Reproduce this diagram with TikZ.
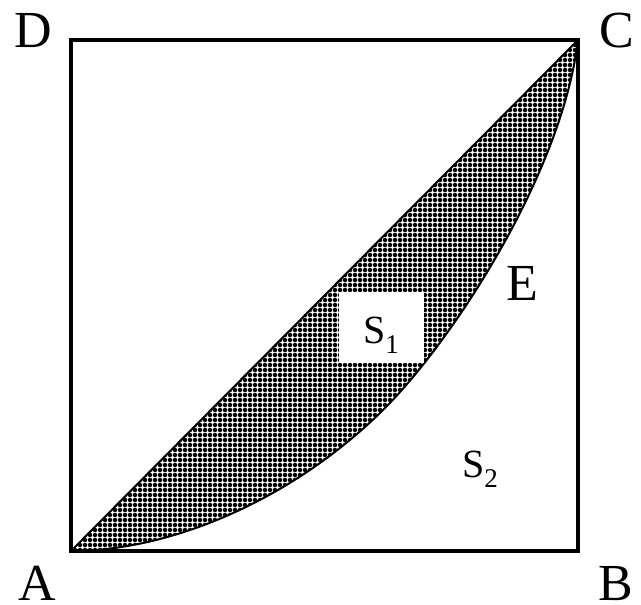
\documentclass[tikz,border=0pt]{standalone}
\usepackage{fontspec}
\setmainfont{Liberation Serif}
\usetikzlibrary{patterns, positioning}

% dense dot fill of the region S1
\pgfdeclarepatternformonly{blobs}{\pgfqpoint{-2.5pt}{-2.5pt}}{\pgfqpoint{2.5pt}{2.5pt}}{\pgfqpoint{5pt}{5pt}}{%
  \pgfpathcircle{\pgfpointorigin}{2.25pt}\pgfusepath{fill}}

\newcommand{\lowidx}[1]{\raisebox{-0.25em}{\fontsize{27}{30}\selectfont #1}}

\begin{document}
\begin{tikzpicture}[
    x=1pt, y=-1pt,
    every node/.style={inner sep=0pt},
    vlabel/.style={font=\fontsize{52}{60}\selectfont, anchor=base, text depth=0pt},
    alabel/.style={font=\fontsize{40}{48}\selectfont, anchor=base},
    edge/.style={line width=2pt, line join=round}
]
\useasboundingbox (0,0) rectangle (641,605);

% Corners
\coordinate (A) at (71,551);
\coordinate (B) at (578,551);
\coordinate (C) at (578,40);
\coordinate (D) at (71,40);
\coordinate (M) at (380,413);

% Region between diagonal and curve AEC
\draw[edge, pattern=blobs] (A) .. controls (171,551) and (290,500.3) .. (M)
    .. controls (450,345) and (561.8,175) .. (C) -- cycle;

% Square
\draw[line width=4.3pt, line join=miter] (A) -- (B) -- (C) -- (D) -- cycle;

% White box round S1
\node[fill=white, minimum width=85pt, minimum height=71pt] (boxS) at (381.5,327.5) {};

% Labels
\node[vlabel] (lblD) at (33.5,47) {D};
\node[vlabel] (lblC) at (616.5,47) {C};
\node[vlabel] (lblA) at (37.5,600) {A};
\node[vlabel] (lblB) at (616,600) {B};
\node[vlabel] (lblE) at (522,300) {E};
\node[alabel] (lblS1) at (381,343) {S\lowidx{1}};
\node[alabel] (lblS2) at (480,477) {S\lowidx{2}};

\end{tikzpicture}
\end{document}
